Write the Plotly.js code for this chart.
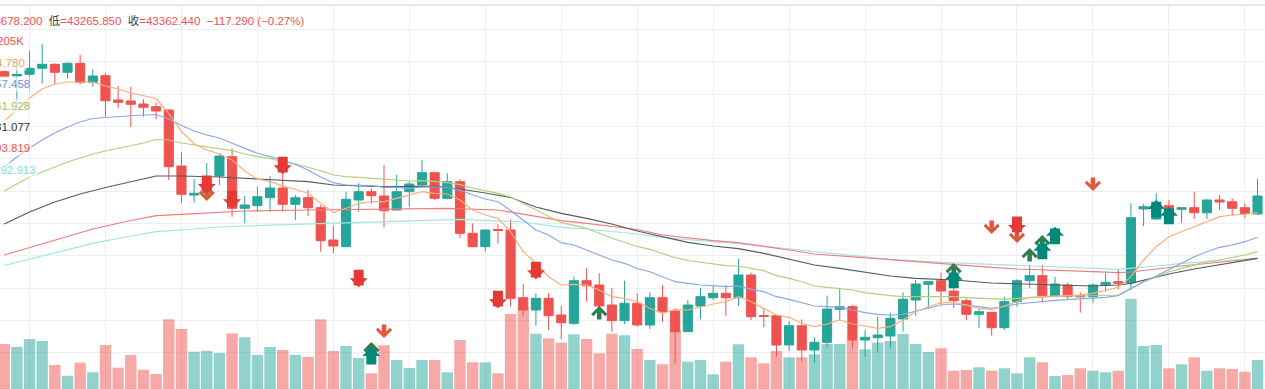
<!DOCTYPE html>
<html><head><meta charset="utf-8">
<script src="https://cdn.plot.ly/plotly-3.0.1.min.js"></script>
<style>html,body{margin:0;padding:0;background:#fff;overflow:hidden}#chart{width:1265px;height:389px}</style>
</head><body><div id="chart"></div>
<script>
// candle positions (bar number)
const bars = [0,1,2,3,4,5,6,7,8,9,10,11,12,13,14,15,16,17,18,19,20,21,22,23,24,25,26,27,28,29,30,31,32,33,34,35,36,37,38,39,40,41,42,43,44,45,46,47,48,49,50,51,52,53,54,55,56,57,58,59,60,61,62,63,64,65,66,67,68,69,70,71,72,73,74,75,76,77,78,79,80,81,82,83,84,85,86,87,88,89,90,91,92,93,94,95,96,97,98,99];

const openP = [44283,44240,44257,44317,44357,44277,44367,44177,44243,44000,43990,43960,43933,43900,43340,43050,43070,43240,43433,42917,42943,43023,43120,42957,43023,42923,42600,42533,43000,43083,43040,42900,43083,43150,43273,43017,43183,42667,42533,42705,42700,42023,41900,42017,41850,41767,42193,42150,41950,41793,41967,41750,42023,41890,41683,41940,42023,42067,42023,42250,41845,41843,41550,41743,41500,41577,41907,41933,41600,41623,41640,41810,42000,42157,42193,42090,41993,41857,41877,41723,41983,42193,42243,42043,42150,42043,42033,42150,42183,42173,42910,42810,42943,42907,42923,42873,43000,42983,42923,42860];
const highP = [44300,44330,44493,44560,44367,44377,44450,44307,44267,44140,44133,44010,43973,43905,43477,43210,43370,43467,43517,43040,43133,43243,43267,43050,43100,42950,42743,43083,43167,43117,43350,43250,43183,43400,43283,43267,43207,42767,42707,42757,42807,42160,42067,42067,41940,42233,42317,42267,42123,42193,42067,42077,42150,41917,42000,42123,42150,42150,42410,42273,41917,41845,41790,41807,41627,42043,42123,41950,41700,41833,41873,42077,42200,42185,42273,42150,42017,41917,41880,42033,42207,42350,42350,42233,42173,42077,42167,42267,42300,42967,42960,43067,43000,42925,43083,43007,43050,43017,42967,43210];
const lowP = [44220,43960,44083,44167,44157,44217,44157,44133,43833,43917,43733,43833,43807,43200,42967,42973,43030,43150,42833,42767,42883,42883,42883,42800,42840,42483,42467,42530,42883,42960,42727,42895,42933,43130,43000,43007,42617,42533,42483,42567,41933,41843,41743,41700,41607,41750,41983,41930,41683,41760,41733,41710,41783,41367,41680,41807,42000,41843,41940,41800,41727,41433,41493,41383,41373,41523,41800,41517,41433,41473,41517,41683,41840,41917,41950,41920,41800,41717,41643,41700,41933,42117,41973,42033,42000,41873,41973,42083,42107,42100,42740,42800,42880,42773,42810,42810,42900,42840,42817,42850];
const closeP = [44233,44255,44317,44357,44277,44367,44177,44240,43993,43977,43957,43927,43890,43333,43057,43067,43170,43440,42917,42950,43033,43120,42957,43023,42923,42593,42540,43007,43083,43043,42893,43083,43160,43273,43017,43183,42667,42533,42700,42695,42017,41900,42017,41843,41773,42193,42143,41940,41793,41967,41750,42023,41883,41683,41950,42033,42067,42023,42250,41833,41835,41550,41743,41500,41577,41910,41933,41600,41627,41650,41817,42007,42160,42183,42090,41993,41857,41883,41723,41983,42193,42243,42043,42160,42033,42033,42150,42177,42167,42823,42933,42943,42900,42923,42873,43000,42980,42917,42867,43040];
// volume in K
const volumeK = [315,294,350,336,168,93,184,117,308,149,238,135,105,488,420,261,266,252,389,362,238,294,273,238,225,488,266,301,217,110,306,203,147,203,203,117,343,187,187,110,525,572,387,355,324,383,350,250,387,376,280,203,173,413,191,203,103,191,313,222,180,266,222,222,243,315,315,343,278,324,336,385,315,259,285,128,133,152,128,145,110,222,187,91,98,145,128,117,128,632,301,308,145,173,222,128,145,140,121,203];

// moving averages
const ma5 = [43790,43900,44020,44110,44160,44180,44180,44180,44140,44110,44070,44040,44015,43863,43687,43563,43500,43460,43400,43290,43210,43183,43140,43107,43067,42967,42875,42917,42967,42983,42983,43017,43050,43083,43067,43060,43000,42900,42850,42817,42683,42483,42367,42233,42150,42157,42150,42100,42033,42017,41983,41917,41867,41907,41900,41933,41960,41983,42033,41983,41917,41850,41827,41767,41733,41760,41800,41760,41740,41717,41733,41800,41883,41933,41973,41973,41950,41917,41907,41940,41983,42027,42033,42040,42050,42050,42067,42100,42127,42233,42400,42533,42633,42683,42733,42783,42833,42850,42857,42873];
const ma10 = [43330,43430,43520,43600,43670,43730,43780,43815,43825,43835,43845,43850,43855,43810,43745,43690,43650,43620,43567,43517,43467,43433,43400,43355,43300,43230,43173,43150,43150,43145,43127,43127,43117,43130,43130,43125,43100,43050,43010,42983,42895,42800,42700,42650,42573,42550,42500,42450,42400,42367,42315,42283,42233,42183,42167,42150,42143,42133,42140,42107,42083,42033,42007,41973,41940,41933,41927,41900,41873,41857,41850,41857,41890,41917,41950,41960,41950,41933,41917,41933,41960,41973,41990,41997,42003,42010,42017,42027,42043,42117,42183,42240,42307,42367,42433,42483,42527,42550,42583,42627];
const ma20 = [43090,43160,43230,43280,43330,43380,43420,43460,43490,43515,43540,43570,43605,43600,43570,43550,43530,43517,43493,43460,43433,43417,43383,43360,43327,43293,43250,43233,43227,43217,43207,43193,43190,43193,43187,43173,43153,43120,43093,43067,43030,42967,42900,42833,42773,42747,42717,42667,42617,42577,42535,42507,42467,42423,42395,42377,42360,42343,42340,42317,42293,42243,42217,42183,42140,42127,42117,42100,42073,42057,42043,42033,42033,42033,42033,42033,42023,42017,42007,42007,42017,42023,42033,42033,42040,42040,42043,42043,42050,42117,42183,42233,42283,42317,42350,42383,42400,42423,42450,42483];
const ma30Bars = [0,2,4,6,8,10,12,14,17,20,24,26,30,34,36,38,40,42,44,46,48,50,52,54,56,58,60,62,64,66,68,70,72,75,78,80,83,86,88,89,90,92,94,96,99];
const ma30 = [42760,42880,42980,43060,43125,43180,43240,43240,43230,43210,43183,43150,43133,43137,43110,43070,43025,42930,42867,42817,42760,42690,42633,42577,42540,42513,42467,42407,42350,42317,42275,42240,42217,42200,42170,42160,42150,42140,42150,42167,42200,42260,42310,42350,42417];
const ma60Bars = [0,2,5,7,10,12,14,17,19,24,32,35,39,41,44,46,48,50,52,56,58,60,62,64,66,70,74,78,80,83,86,88,89,93,96,99];
const ma60 = [42450,42525,42635,42710,42795,42843,42857,42880,42890,42900,42910,42917,42900,42860,42793,42767,42733,42705,42650,42593,42573,42540,42500,42460,42440,42400,42367,42327,42310,42293,42283,42273,42280,42340,42375,42415];
const ma120Bars = [0,2,5,7,10,12,14,17,19,24,28,33,36,41,44,46,50,52,56,60,64,66,70,74,78,80,83,86,88,91,93,96,99];
const ma120 = [42345,42410,42500,42567,42640,42683,42700,42730,42740,42760,42773,42800,42807,42780,42727,42710,42660,42627,42583,42540,42483,42460,42407,42377,42357,42343,42333,42317,42307,42340,42367,42390,42420];

// signals (price at the arrow tip)
const sellBars = [16,18,22,28,39,42,80];
const sellTip = [43070,42917,43257,42127,41917,42207,42660];
const buyBars = [29,75,82,83,91,92];
const buyTip = [41530,42293,42583,42733,43000,42933];
const weakSellBars = [16,30,78,80,86];
const weakSellTip = [42990,41620,42660,42570,43090];
const weakBuyBars = [29,47,75,81,82];
const weakBuyTip = [41580,41940,42370,42520,42650];

// legend texts (left edge, partly outside the view)
const headText = ['43678.200','低','=43265.850','收','=43362.440','−117.290','(−0.27%)'];
const maLabels = ['205K','4.780','57.458','61.928','81.077','03.819','892.913'];
const maLabelColors = ['#ef5350','#f5a15c','#6f92de','#9cc060','#333333','#ef5350','#7fdcd6'];

const UP = '#26a69a', DOWN = '#ef5350';
const volColors = bars.map(i => closeP[i] >= openP[i] ? 'rgba(38,166,154,0.5)' : 'rgba(239,83,80,0.5)');

const traces = [];
traces.push({type:'bar', x:bars, y:volumeK, yaxis:'y', width:0.9,
  marker:{color:volColors, line:{width:0}}, hoverinfo:'skip'});
traces.push({type:'candlestick', x:bars, open:openP, high:highP, low:lowP, close:closeP, yaxis:'y2',
  increasing:{line:{color:UP,width:1}, fillcolor:UP},
  decreasing:{line:{color:DOWN,width:1}, fillcolor:DOWN},
  whiskerwidth:0, hoverinfo:'skip'});
function maTrace(x, y, color){ return {type:'scatter', mode:'lines', x:x, y:y, yaxis:'y2',
  line:{color:color, width:1.2}, hoverinfo:'skip'}; }
traces.push(maTrace(ma120Bars, ma120, '#9fe6e1'));
traces.push(maTrace(ma60Bars, ma60, '#f27b7b'));
traces.push(maTrace(ma30Bars, ma30, '#5a5a5a'));
traces.push(maTrace(bars, ma20, '#b2cf7c'));
traces.push(maTrace(bars, ma10, '#88a8ea'));
traces.push(maTrace(bars, ma5, '#f8b07b'));

const W = 1265, H = 389, TOP = 5;
const FONT = 'Liberation Sans, Noto Sans CJK SC, sans-serif';
function py(pageY){ return (H - pageY) / (H - TOP); }
function px(pageX){ return pageX / W; }
const annotations = [];

// arrow annotations (tip at the data point, tail offset in pixels)
function arrows(xs, tips, down, head, width, size, len, color){
  xs.forEach((x, k) => annotations.push({
    xref:'x', yref:'y2', x:x, y:tips[k], ax:0, ay: down ? -len : len, text:'',
    showarrow:true, arrowhead:head, arrowwidth:width, arrowsize:size, arrowcolor:color, standoff:0, startstandoff:0
  }));
}
arrows(weakSellBars, weakSellTip, true, 4, 4.5, 0.6, 15, '#e0583a');
arrows(weakBuyBars, weakBuyTip, false, 4, 4.5, 0.6, 15, '#2e7d50');
arrows(sellBars, sellTip, true, 1, 10, 0.3, 19, '#e53935');
arrows(buyBars, buyTip, false, 1, 10, 0.3, 19, '#00897b');

const red = s => '<span style="color:#ef5350">' + s + '</span>';
const nb = '\u00A0\u00A0';
annotations.push({
  xref:'paper', yref:'paper', x:px(-14), y:py(21), xanchor:'left', yanchor:'middle', showarrow:false,
  font:{family:FONT, size:11.5, color:'#444'},
  text: red(headText[0]) + nb + headText[1] + red(headText[2]) + nb + headText[3] + red(headText[4] + nb + headText[5] + '\u00A0' + headText[6])
});
const labelRight = [25, 26, 31, 31, 31, 31, 37];
const labelY = [41, 62.5, 84, 106, 127, 148, 170];
maLabels.forEach((t, k) => annotations.push({
  xref:'paper', yref:'paper', x:px(labelRight[k]+1), y:py(labelY[k]), xanchor:'right', yanchor:'middle', showarrow:false,
  font:{family:FONT, size:11.5, color:maLabelColors[k]}, bgcolor:'rgba(255,255,255,0.6)', borderpad:1, text:t
}));

const layout = {
  width:W, height:H, margin:{l:0, r:0, t:TOP, b:0, pad:0},
  paper_bgcolor:'#ffffff', plot_bgcolor:'#ffffff', showlegend:false, boxgap:0.28, boxgroupgap:0,
  xaxis:{range:[-0.332, 99.59], showticklabels:false, ticks:'', showgrid:true, gridcolor:'#eeeeee', gridwidth:1,
    tick0:2, dtick:6, zeroline:false, showline:false, rangeslider:{visible:false}, fixedrange:true},
  yaxis:{range:[0, 384*7], visible:false, showgrid:false, zeroline:false, fixedrange:true},
  yaxis2:{overlaying:'y', range:[41110, 44950], showticklabels:false, ticks:'', showgrid:true, gridcolor:'#eeeeee', gridwidth:1,
    tick0:44383, dtick:323.3, zeroline:false, showline:false, fixedrange:true},
  shapes:[{type:'line', xref:'paper', yref:'paper', x0:0, x1:1, y0:1, y1:1, line:{color:'#dde1e8', width:1.5}}],
  annotations:annotations
};
Plotly.newPlot('chart', traces, layout, {staticPlot:true, displayModeBar:false});
</script></body></html>
